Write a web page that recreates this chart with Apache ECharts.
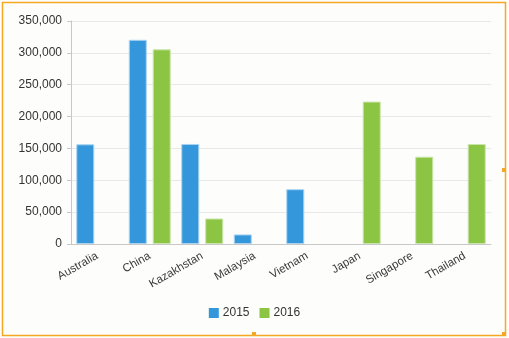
<!DOCTYPE html>
<html>
<head>
<meta charset="utf-8">
<script src="https://cdn.jsdelivr.net/npm/echarts@6/dist/echarts.min.js"></script>
<style>
html,body{margin:0;padding:0;background:#fff;}
#c{width:509px;height:338px;}
</style>
</head>
<body>
<div id="c"></div>
<script>
const categories = ['Australia','China','Kazakhstan','Malaysia','Vietnam','Japan','Singapore','Thailand'];
const series2015 = [156500, 320500, 157000, 15000, 86000, null, null, null];
const series2016 = [null, 305500, 40000, null, null, 223500, 137000, 157000];
const seriesNames = ['2015','2016'];
const yTicks = {min: 0, max: 350000, interval: 50000};

const chart = echarts.init(document.getElementById('c'));
const font = 'Liberation Sans, Arial, sans-serif';
chart.setOption({
  animation: false,
  backgroundColor: '#fdfefb',
  color: ['#3597db', '#8cc444'],
  grid: {left: 71, right: 18, top: 21, bottom: 94, containLabel: false},
  legend: {
    bottom: 14, left: 'center',
    itemWidth: 10, itemHeight: 10, itemGap: 10,
    icon: 'rect',
    itemStyle: {borderWidth: 0},
    textStyle: {fontFamily: font, fontSize: 12, color: '#333', padding: [0, 0, 0, -1]},
    data: seriesNames
  },
  xAxis: {
    type: 'category',
    data: categories,
    axisLine: {lineStyle: {color: '#c8c8c8'}},
    axisTick: {lineStyle: {color: '#c8c8c8'}, length: 5},
    axisLabel: {rotate: 30, fontFamily: font, fontSize: 11.5, color: '#3a3a3a', margin: 11}
  },
  yAxis: {
    type: 'value',
    min: yTicks.min, max: yTicks.max, interval: yTicks.interval,
    axisLine: {show: true, lineStyle: {color: '#c8c8c8'}},
    axisTick: {show: true, length: 4, lineStyle: {color: '#c8c8c8'}},
    splitLine: {lineStyle: {color: '#e8e8e8'}},
    axisLabel: {
      fontFamily: font, fontSize: 12, color: '#333', margin: 9,
      formatter: v => v.toLocaleString('en-US')
    }
  },
  series: [
    {name: seriesNames[0], type: 'bar', data: series2015, barWidth: 18, barGap: '33%',
     itemStyle: {borderColor: '#a9d3f0', borderWidth: 1}},
    {name: seriesNames[1], type: 'bar', data: series2016, barWidth: 18, barGap: '33%',
     itemStyle: {borderColor: '#c9e5a9', borderWidth: 1}}
  ],
  graphic: [
    {type: 'rect', shape: {x: 2.5, y: 2.5, width: 503, height: 333},
     style: {fill: null, stroke: '#f5a623', lineWidth: 1.5}, silent: true},
    {type: 'rect', shape: {x: 502, y: 168, width: 4, height: 4}, style: {fill: '#f5a623'}},
    {type: 'rect', shape: {x: 252, y: 332, width: 4, height: 4}, style: {fill: '#f5a623'}},
    {type: 'rect', shape: {x: 502, y: 332, width: 4, height: 4}, style: {fill: '#f5a623'}}
  ]
});
</script>
</body>
</html>
